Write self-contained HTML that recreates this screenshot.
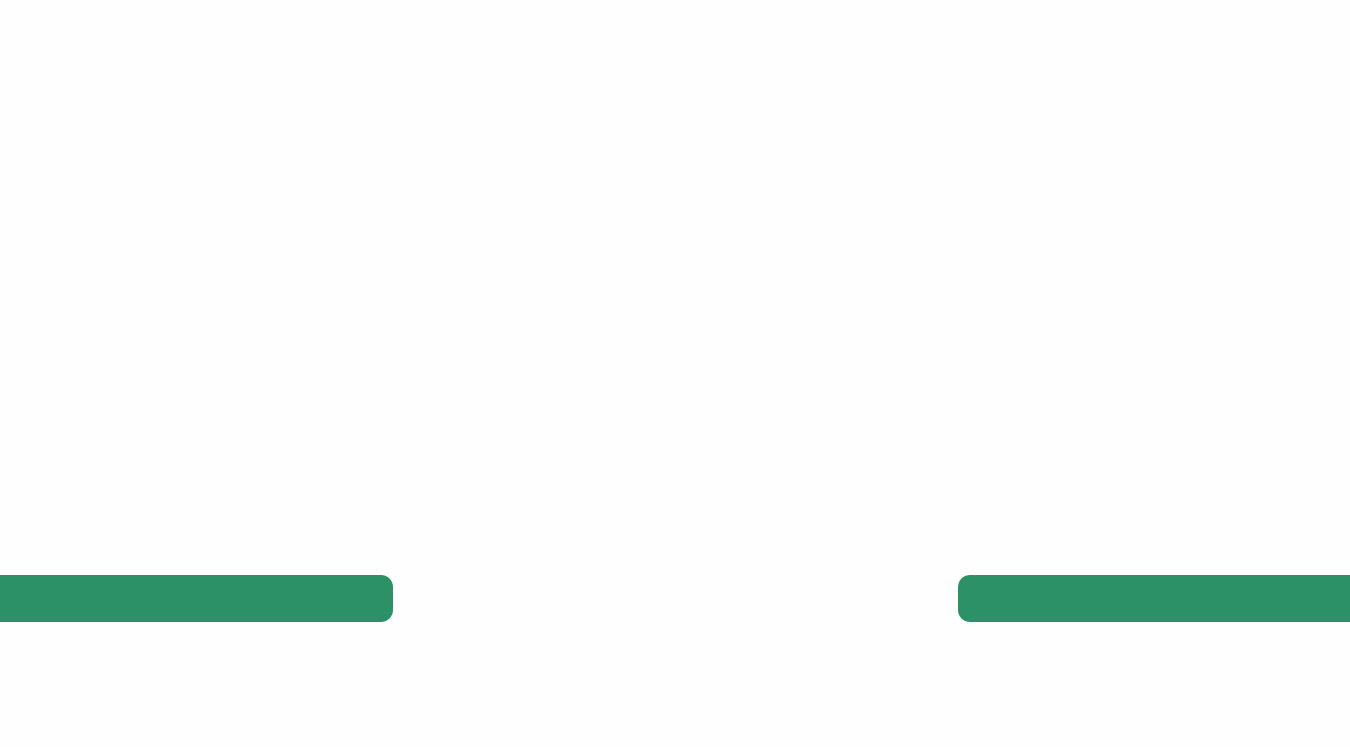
<!DOCTYPE html>
<html><head><meta charset="utf-8"><style>
html,body{margin:0;padding:0;width:1350px;height:747px;background:#fefefe;overflow:hidden;position:relative}
.b{position:absolute;top:575px;height:47px;background:#2c9166}
</style></head><body>
<div class="b" style="left:0;width:393px;border-radius:0 12px 12px 0"></div>
<div class="b" style="left:958px;width:392px;border-radius:12px 0 0 12px"></div>
</body></html>
